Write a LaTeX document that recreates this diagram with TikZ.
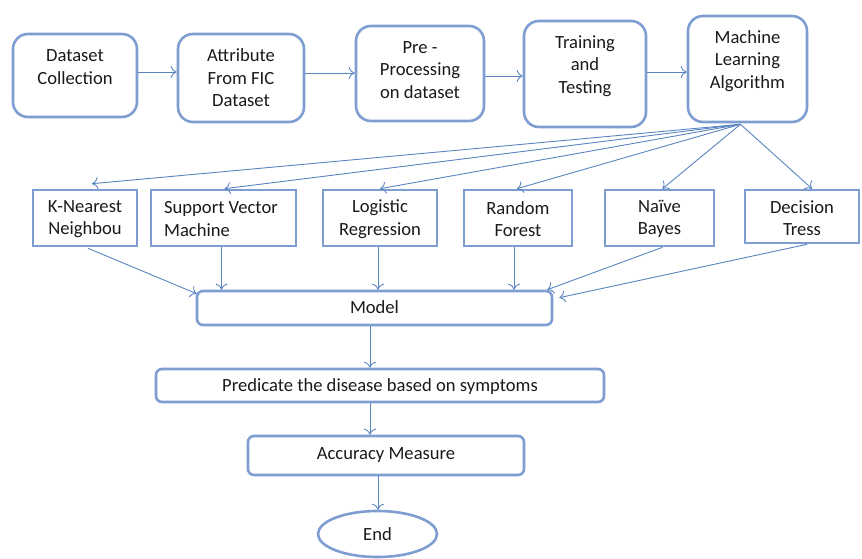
\documentclass[tikz,border=0pt]{standalone}
\usepackage{fontspec}
\setmainfont{Carlito}
\usetikzlibrary{arrows.meta,shapes.geometric,calc}
\definecolor{bord}{HTML}{7E9ED1}
\definecolor{arr}{HTML}{5A84C0}
\definecolor{txtc}{HTML}{1A1A1A}
\begin{document}
\begin{tikzpicture}[x=1pt,y=-1pt,
  every node/.style={font=\fontsize{18.6}{22.5}\selectfont, text=txtc, inner sep=0pt},
  topbox/.style={draw=bord, line width=2.6pt, rounded corners=15pt},
  midbox/.style={draw=bord, line width=2.6pt},
  lowbox/.style={draw=bord, line width=2.6pt, rounded corners=6pt},
  lbl/.style={align=center},
  conn/.style={draw=arr, line width=0.9pt, -{To[length=6pt,width=12pt]}}]
\useasboundingbox (0,0) rectangle (862,559);
% top row
\node[topbox, minimum width=124pt, minimum height=83pt] (ds) at (75,75.5) {};
\node[lbl] at (75,67) {Dataset\\Collection};
\node[topbox, minimum width=126pt, minimum height=88pt] (attr) at (241,78) {};
\node[lbl] at (241,78) {Attribute\\From FIC\\Dataset};
\node[topbox, minimum width=128pt, minimum height=95pt] (pre) at (420,73.5) {};
\node[lbl] at (420,70) {Pre -\\Processing\\on dataset};
\node[topbox, minimum width=122pt, minimum height=106pt] (train) at (585,74) {};
\node[lbl] at (585,66) {Training\\and\\Testing};
\node[topbox, minimum width=119pt, minimum height=106pt] (ml) at (747.5,69) {};
\node[lbl] at (747.5,61) {Machine\\Learning\\Algorithm};
% middle row
\node[midbox, minimum width=104pt, minimum height=56pt] (knn) at (85,218) {};
\node[lbl] at (85,219) {K-Nearest\\Neighbou};
\node[midbox, minimum width=145pt, minimum height=56pt] (svm) at (223.5,218) {};
\node[align=left] at (221,219) {Support Vector\\Machine};
\node[midbox, minimum width=114pt, minimum height=56pt] (lr) at (380,218) {};
\node[lbl] at (380,219) {Logistic\\Regression};
\node[midbox, minimum width=108pt, minimum height=56pt] (rf) at (518,218) {};
\node[lbl] at (518,219) {Random\\Forest};
\node[midbox, minimum width=109pt, minimum height=56pt] (nb) at (659.5,218) {};
\node[lbl] at (659.5,219) {Naïve\\Bayes};
\node[midbox, minimum width=114pt, minimum height=53pt] (dt) at (802,216.5) {};
\node[lbl] at (802,218) {Decision\\Tress};
% lower column
\node[lowbox, minimum width=355pt, minimum height=34pt] (model) at (374.5,308) {};
\node at (374.5,307) {Model};
\node[lowbox, minimum width=448pt, minimum height=33pt] (pred) at (380,385.5) {};
\node at (380,387) {Predicate the disease based on symptoms};
\node[lowbox, minimum width=276pt, minimum height=39pt] (acc) at (386,455.5) {Accuracy Measure};
\node[ellipse, draw=bord, line width=2.6pt, minimum width=119pt, minimum height=46pt] (end) at (377.5,534) {End};
% top row connectors
\draw[conn] (ds.east |- 0,72) -- (attr.west |- 0,72);
\draw[conn] (attr.east |- 0,73) -- (pre.west |- 0,73);
\draw[conn] (pre.east |- 0,76) -- (train.west |- 0,76);
\draw[conn] (train.east |- 0,72) -- (ml.west |- 0,72);
% fan-out
\coordinate (mlb) at ($(ml.south)+(-7,1)$);
\draw[conn] (mlb) -- ($(knn.north)+(7,-5)$);
\draw[conn] (mlb) -- ($(svm.north)+(1,0)$);
\draw[conn] (mlb) -- (lr.north);
\draw[conn] (mlb) -- ($(rf.north)+(-1,0)$);
\draw[conn] (mlb) -- ($(nb.north)+(3,0)$);
\draw[conn] (mlb) -- ($(dt.north)+(10,0)$);
% into model
\draw[conn] ($(knn.south)+(3,1)$) -- ($(model.north west)+(1,4)$);
\draw[conn] ($(svm.south)+(-2,0)$) -- ($(svm.south |- model.north)+(-2,0)$);
\draw[conn] ($(lr.south)+(-2,0)$) -- ($(lr.south |- model.north)+(-2,0)$);
\draw[conn] ($(rf.south)+(-4,0)$) -- ($(rf.south |- model.north)+(-4,0)$);
\draw[conn] ($(nb.south)+(3,0)$) -- ($(model.north east)+(-6,0)$);
\draw[conn] ($(dt.south)+(5,0)$) -- ($(model.north east)+(6,8)$);
% lower chain
\draw[conn] (model.south -| 370,0) -- (pred.north -| 370,0);
\draw[conn] (pred.south -| 370,0) -- (acc.north -| 370,0);
\draw[conn] (acc.south -| 378,0) -- (end.north -| 378,0);
\end{tikzpicture}
\end{document}
